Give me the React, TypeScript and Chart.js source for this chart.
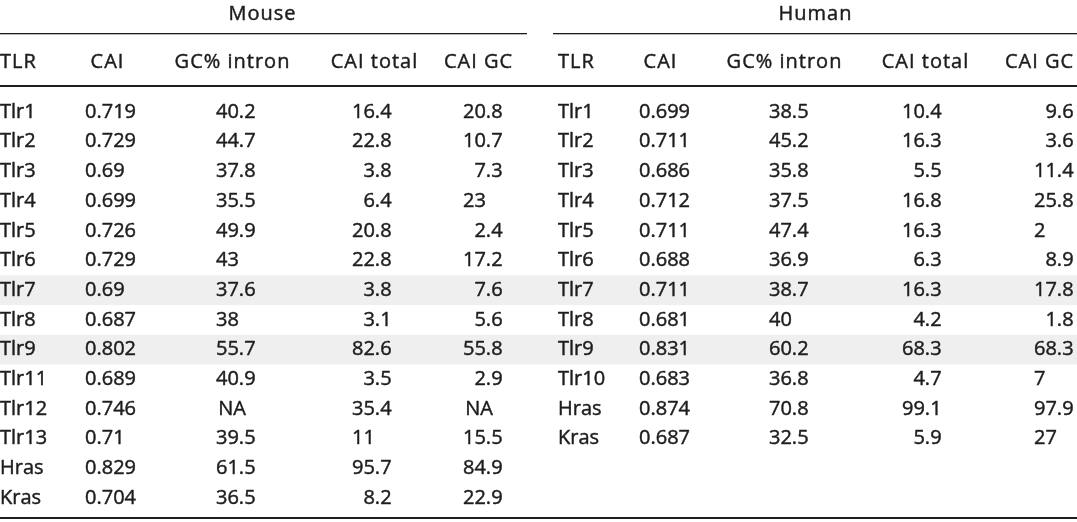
import { useEffect, useRef } from 'react';
import { Chart, registerables } from 'chart.js';

Chart.register(...registerables);

// ---------- DATA ----------
const GROUP_TITLES = ['Mouse', 'Human'];
const COLUMN_HEADERS = ['TLR', 'CAI', 'GC% intron', 'CAI total', 'CAI GC'];
const SHADED_GENES = ['Tlr7', 'Tlr9'];

const MOUSE_GENES = ['Tlr1', 'Tlr2', 'Tlr3', 'Tlr4', 'Tlr5', 'Tlr6', 'Tlr7', 'Tlr8', 'Tlr9', 'Tlr11', 'Tlr12', 'Tlr13', 'Hras', 'Kras'];
const MOUSE_CAI = [0.719, 0.729, 0.69, 0.699, 0.726, 0.729, 0.69, 0.687, 0.802, 0.689, 0.746, 0.71, 0.829, 0.704];
const MOUSE_GC_INTRON = [40.2, 44.7, 37.8, 35.5, 49.9, 43, 37.6, 38, 55.7, 40.9, null, 39.5, 61.5, 36.5];
const MOUSE_CAI_TOTAL = [16.4, 22.8, 3.8, 6.4, 20.8, 22.8, 3.8, 3.1, 82.6, 3.5, 35.4, 11, 95.7, 8.2];
const MOUSE_CAI_GC = [20.8, 10.7, 7.3, 23, 2.4, 17.2, 7.6, 5.6, 55.8, 2.9, null, 15.5, 84.9, 22.9];

const HUMAN_GENES = ['Tlr1', 'Tlr2', 'Tlr3', 'Tlr4', 'Tlr5', 'Tlr6', 'Tlr7', 'Tlr8', 'Tlr9', 'Tlr10', 'Hras', 'Kras'];
const HUMAN_CAI = [0.699, 0.711, 0.686, 0.712, 0.711, 0.688, 0.711, 0.681, 0.831, 0.683, 0.874, 0.687];
const HUMAN_GC_INTRON = [38.5, 45.2, 35.8, 37.5, 47.4, 36.9, 38.7, 40, 60.2, 36.8, 70.8, 32.5];
const HUMAN_CAI_TOTAL = [10.4, 16.3, 5.5, 16.8, 16.3, 6.3, 16.3, 4.2, 68.3, 4.7, 99.1, 5.9];
const HUMAN_CAI_GC = [9.6, 3.6, 11.4, 25.8, 2, 8.9, 17.8, 1.8, 68.3, 7, 97.9, 27];

// ---------- LAYOUT (positions on the x scale 0..W, rows on the y scale in row units) ----------
const W = 1077;
const H = 522;
const ROW0_PX = 112;
const ROW_PITCH = 29.7;
const TITLE_ROW = -3.28;
const TITLE_RULE_ROW = -2.66;
const HEADER_ROW = -1.66;
const HEADER_RULE_ROW = -0.88;
const BOTTOM_RULE_ROW = 13.68;

type Col = { kind: 'text' | 'num'; left: number; header: number; intDigits: number; na?: number };
const GROUP_LAYOUT = [
  {
    titleX: 262,
    rule: [0, 527],
    cols: [
      { kind: 'text', left: 0, header: 0, intDigits: 0 },
      { kind: 'num', left: 85, header: 107, intDigits: 1 },
      { kind: 'num', left: 216, header: 232, intDigits: 2, na: 232 },
      { kind: 'num', left: 352, header: 374, intDigits: 2 },
      { kind: 'num', left: 463, header: 478, intDigits: 2, na: 479 },
    ] as Col[],
  },
  {
    titleX: 815,
    rule: [553, 1077],
    cols: [
      { kind: 'text', left: 558, header: 558, intDigits: 0 },
      { kind: 'num', left: 639, header: 660, intDigits: 1 },
      { kind: 'num', left: 769, header: 784, intDigits: 2 },
      { kind: 'num', left: 902, header: 925, intDigits: 2 },
      { kind: 'num', left: 1034, header: 1039, intDigits: 2 },
    ] as Col[],
  },
];

const GROUP_DATA = [
  [MOUSE_GENES, MOUSE_CAI, MOUSE_GC_INTRON, MOUSE_CAI_TOTAL, MOUSE_CAI_GC],
  [HUMAN_GENES, HUMAN_CAI, HUMAN_GC_INTRON, HUMAN_CAI_TOTAL, HUMAN_CAI_GC],
];

const FONT = '20px "Open Sans"';
const HEAD_SPACING = '1px';
const INK = '#1f1c1d';
const SHADE = '#efefef';
const EMBOLDEN = 0.45;

function put(ctx: CanvasRenderingContext2D, s: string, x: number, y: number) {
  ctx.fillText(s, x, y);
  ctx.strokeText(s, x, y);
}

function drawCell(ctx: CanvasRenderingContext2D, value: any, col: Col, px: (v: number) => number, y: number) {
  if (value === null || value === undefined) {
    ctx.textAlign = 'center';
    put(ctx, 'NA', px(col.na ?? col.header), y);
    return;
  }
  const s = String(value);
  if (col.kind === 'text' || !s.includes('.')) {
    ctx.textAlign = 'left';
    put(ctx, s, px(col.left), y);
    return;
  }
  const [ip, fp] = s.split('.');
  const dx = px(col.left) + ctx.measureText('0'.repeat(col.intDigits)).width;
  ctx.textAlign = 'right';
  put(ctx, ip, dx, y);
  ctx.textAlign = 'left';
  put(ctx, '.' + fp, dx, y);
}

function spacedText(ctx: any, text: string, x: number, y: number, align: 'left' | 'center') {
  ctx.save();
  ctx.letterSpacing = HEAD_SPACING;
  const w = ctx.measureText(text).width - parseFloat(HEAD_SPACING);
  ctx.textAlign = 'left';
  put(ctx, text, align === 'center' ? x - w / 2 : x, y);
  ctx.restore();
}

const tablePlugin = {
  id: 'tablePlugin',
  beforeDatasetsDraw(chart: any) {
    const { ctx, scales } = chart;
    const xs = scales.x;
    const ys = scales.y;
    const px = (v: number) => xs.getPixelForValue(v);
    const py = (v: number) => ys.getPixelForValue(v);
    ctx.save();
    ctx.fillStyle = SHADE;
    SHADED_GENES.forEach((g) => {
      const i = MOUSE_GENES.indexOf(g);
      const top = py(i - 0.5);
      const bot = py(i + 0.5);
      ctx.fillRect(px(0), top, px(W) - px(0), bot - top);
    });
    ctx.fillStyle = INK;
    GROUP_LAYOUT.forEach((g) => {
      const y = py(TITLE_RULE_ROW);
      ctx.fillRect(px(g.rule[0]), Math.round(y), px(g.rule[1]) - px(g.rule[0]), 1.3);
    });
    const hy = py(HEADER_RULE_ROW);
    ctx.fillRect(px(0), Math.round(hy) - 1, px(W) - px(0), 2);
    const by = py(BOTTOM_RULE_ROW);
    ctx.fillRect(px(0), Math.round(by) - 1, px(W) - px(0), 2);
    ctx.restore();
  },
  afterDatasetsDraw(chart: any) {
    const { ctx, scales } = chart;
    const xs = scales.x;
    const ys = scales.y;
    const px = (v: number) => xs.getPixelForValue(v);
    const py = (v: number) => ys.getPixelForValue(v);
    ctx.save();
    ctx.font = FONT;
    ctx.fillStyle = INK;
    ctx.strokeStyle = INK;
    ctx.lineWidth = EMBOLDEN;
    ctx.lineJoin = 'round';
    ctx.textBaseline = 'middle';
    GROUP_LAYOUT.forEach((g, gi) => {
      spacedText(ctx, GROUP_TITLES[gi], px(g.titleX), py(TITLE_ROW), 'center');
      g.cols.forEach((col, ci) => {
        spacedText(ctx, COLUMN_HEADERS[ci], px(col.header), py(HEADER_ROW), col.kind === 'text' ? 'left' : 'center');
        const values = GROUP_DATA[gi][ci] as any[];
        values.forEach((v, ri) => drawCell(ctx, v, col, px, py(ri)));
      });
    });
    ctx.restore();
  },
};

export default function App() {
  const ref = useRef<HTMLCanvasElement | null>(null);
  useEffect(() => {
    if (!ref.current) return;
    const chart = new Chart(ref.current, {
      type: 'scatter',
      data: { datasets: [] },
      options: {
        animation: false,
        responsive: false,
        devicePixelRatio: 1,
        layout: { padding: 0 },
        plugins: { legend: { display: false }, tooltip: { enabled: false }, title: { display: false } },
        scales: {
          x: { type: 'linear', display: false, min: 0, max: W },
          y: {
            type: 'linear',
            display: false,
            reverse: true,
            min: -ROW0_PX / ROW_PITCH,
            max: (H - ROW0_PX) / ROW_PITCH,
          },
        },
      },
      plugins: [tablePlugin],
    });
    return () => chart.destroy();
  }, []);
  return (
    <div style={{ position: 'absolute', left: 0, top: 0, width: W, height: H, background: '#fff' }}>
      <canvas ref={ref} width={W} height={H} style={{ display: 'block', width: W, height: H }} />
    </div>
  );
}
